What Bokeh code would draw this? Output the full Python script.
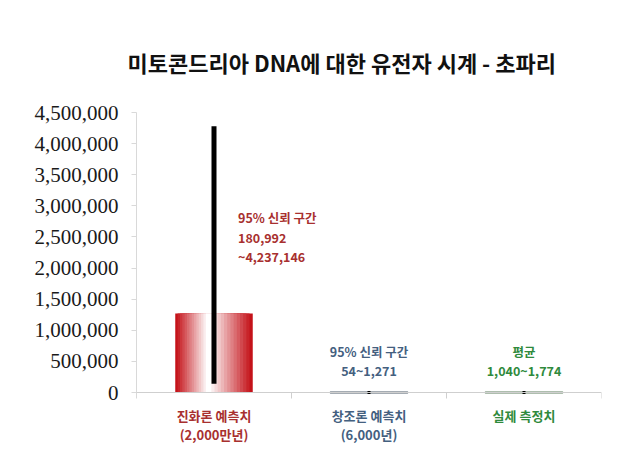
from bokeh.plotting import figure
from bokeh.models import ColumnDataSource, FactorRange, Range1d, FixedTicker, NumeralTickFormatter, Span
from bokeh.core.properties import value
from bokeh.transform import dodge
from bokeh.embed import file_html
from bokeh.resources import INLINE

# ---- data ----
keys = ["evo", "cre", "obs"]
cat_labels = ["진화론 예측치\n(2,000만년)", "창조론 예측치\n(6,000년)", "실제 측정치"]
values = [1270000, 660, 1400]
lower = [180992, 54, 1040]
upper = [4237146, 1271, 1774]
annotations = ["95% 신뢰 구간\n180,992\n~4,237,146", "95% 신뢰 구간\n54~1,271", "평균\n1,040~1,774"]
y_ticks = [0, 500000, 1000000, 1500000, 2000000, 2500000, 3000000, 3500000, 4000000, 4500000]
title_text = "미토콘드리아 DNA에 대한 유전자 시계 - 초파리"

text_colors = ["#a8302f", "#44607f", "#2f8a3c"]
bar_colors = ["#c8161d", "#4c5a68", "#5f7f5f"]
KR = "Noto Sans CJK KR"

# ---- layout (pixels) ----
W, H = 624, 459
frame_left, frame_right, frame_top, zero_px, frame_bottom = 136, 601, 112, 392, 455
y_max = 4500000
per_px = y_max / (zero_px - frame_top)
y_min = -(frame_bottom - zero_px) * per_px

p = figure(width=W, height=H, output_backend="svg", toolbar_location=None,
           x_range=FactorRange(factors=keys), y_range=Range1d(y_min, y_max),
           min_border_left=frame_left, min_border_right=W - frame_right,
           min_border_bottom=H - frame_bottom, min_border_top=frame_top,
           title=title_text)
p.title.text_font = KR
p.title.text_font_size = "22px"
p.title.text_font_style = "bold"
p.title.text_color = "#111111"
p.title.align = "left"
p.title.offset = -9
p.title.standoff = 70

# gradient bar (nested strips, edge red -> center white)
n = 14
r0, g0, b0 = 0xc4, 0x12, 0x19
for i in range(n):
    t = i / (n - 1)
    col = "#%02x%02x%02x" % (int(r0 + (255 - r0) * t), int(g0 + (255 - g0) * t), int(b0 + (255 - b0) * t))
    s = ColumnDataSource(dict(x=[keys[0]], top=[values[0]]))
    p.vbar(x=dodge("x", -0.035 * t, range=p.x_range), top="top", source=s,
           width=0.5 * (1 - i / n), fill_color=col, line_color=None)

# tiny bars
p.vbar(x=keys[1:], top=values[1:], width=0.5, fill_color=bar_colors[1:], line_color=bar_colors[1:], line_width=2)

# x axis line and category separators
p.add_layout(Span(location=0, dimension="width", line_color="#cfcfcf", line_width=1))
sep = ColumnDataSource(dict(x=keys, y0=[0, 0, 0], y1=[-6 * per_px] * 3))
p.segment(x0=dodge("x", 0.5, range=p.x_range), x1=dodge("x", 0.5, range=p.x_range), y0="y0", y1="y1",
          source=sep, line_color="#cfcfcf", line_width=1)

# error bars
p.segment(x0=keys, y0=lower, x1=keys, y1=upper, line_color="black", line_width=[5, 3, 3], line_cap="square")

# annotations above bars
p.text(x=[keys[0]], y=[2960000], text=[annotations[0]], x_offset=24, text_align="left", text_baseline="top",
       text_font=value(KR), text_font_size="12.5px", text_font_style="bold", text_color=text_colors[0],
       text_line_height=1.02)
p.text(x=keys[1:], y=[0, 0], text=annotations[1:], y_offset=-12, text_align="center", text_baseline="bottom",
       text_font=value(KR), text_font_size="12.5px", text_font_style="bold", text_color=text_colors[1:],
       text_line_height=1.02)

# category labels
p.text(x=keys, y=[0, 0, 0], text=cat_labels, y_offset=13, text_align="center", text_baseline="top",
       text_font=value(KR), text_font_size="13px", text_font_style="bold", text_color=text_colors,
       text_line_height=1.0)

p.yaxis.ticker = FixedTicker(ticks=y_ticks)
p.yaxis.bounds = (-6 * per_px, y_max)
p.yaxis.formatter = NumeralTickFormatter(format="0,0")
p.yaxis.major_label_text_font = "Liberation Serif"
p.yaxis.major_label_text_font_size = "21px"
p.yaxis.major_label_text_color = "#1a1a1a"
p.yaxis.axis_line_color = "#d9d9d9"
p.yaxis.major_tick_line_color = "#d9d9d9"
p.yaxis.major_tick_in = 0
p.yaxis.major_tick_out = 5
p.yaxis.minor_tick_line_color = None
p.yaxis.major_label_standoff = 13

p.xaxis.visible = False
p.grid.visible = False
p.outline_line_color = None

open("out.html", "w").write(file_html(p, INLINE))
